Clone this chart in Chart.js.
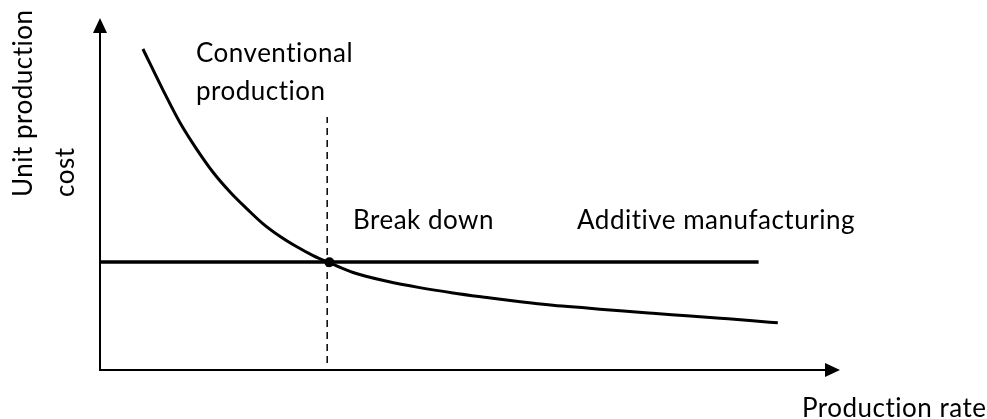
<!DOCTYPE html>
<html>
<head>
<meta charset="utf-8">
<script src="https://cdn.jsdelivr.net/npm/chart.js@4.4.1/dist/chart.umd.min.js"></script>
<style>
  html, body { margin: 0; padding: 0; background: #fff; }
  canvas { display: block; }
</style>
</head>
<body>
<canvas id="chart" width="987" height="419"></canvas>
<script>
// conventional production cost curve
const convX = [5.8, 8.5, 10.8, 13.1, 15.3, 17.6, 19.9, 22.0, 24.3, 26.6, 28.8, 31.1, 34.2, 38.8, 43.2, 47.7, 52.3, 56.8, 61.2, 65.8, 70.3, 74.7, 79.3, 83.8, 88.2, 91.6];
const convY = [91.2, 79.6, 70.3, 62.6, 56.1, 50.5, 45.7, 41.6, 38.0, 35.0, 32.5, 30.4, 27.7, 25.2, 23.4, 21.9, 20.6, 19.4, 18.4, 17.6, 16.8, 16.1, 15.4, 14.7, 14.0, 13.4];

// additive manufacturing: flat cost
const addX = [0, 89.0];
const addY = [30.7, 30.7];

// break point and its dashed marker
const breakX = 31.0;
const breakY = 30.6;
const dashX = [30.7, 30.7];
const dashY = [2.0, 71.9];

const labels = {
  conventional: ['Conventional', 'production'],
  breakDown: 'Break down',
  additive: 'Additive manufacturing',
  xTitle: 'Production rate',
  yTitle: ['Unit production', 'cost']
};

const toPts = (xs, ys) => xs.map((x, i) => ({ x: x, y: ys[i] }));

const FONT = '26px Lato';

// axes with arrows + text annotations
const decor = {
  id: 'decor',
  beforeDatasetsDraw(chart) {
    const c = chart.ctx;
    const a = chart.chartArea;
    c.save();
    c.strokeStyle = '#000';
    c.fillStyle = '#000';
    c.lineWidth = 2;
    // x axis
    c.beginPath();
    c.moveTo(a.left, a.bottom);
    c.lineTo(a.right - 14, a.bottom);
    c.stroke();
    c.beginPath();
    c.moveTo(a.right, a.bottom);
    c.lineTo(a.right - 15, a.bottom - 7);
    c.lineTo(a.right - 15, a.bottom + 7);
    c.closePath();
    c.fill();
    // y axis
    c.beginPath();
    c.moveTo(a.left, a.bottom + 1);
    c.lineTo(a.left, a.top + 14);
    c.stroke();
    c.beginPath();
    c.moveTo(a.left, a.top);
    c.lineTo(a.left - 7, a.top + 15);
    c.lineTo(a.left + 7, a.top + 15);
    c.closePath();
    c.fill();
    c.restore();
  },
  afterDraw(chart) {
    const c = chart.ctx;
    c.save();
    c.fillStyle = '#000';
    c.font = FONT;
    c.letterSpacing = '0.5px'; // also stops the "ti" ligature
    c.textAlign = 'left';
    c.textBaseline = 'alphabetic';
    c.fillText(labels.conventional[0], 196, 62);
    c.fillText(labels.conventional[1], 196, 100);
    c.fillText(labels.breakDown, 353, 229);
    c.fillText(labels.additive, 577, 229);
    c.fillText(labels.xTitle, 802, 417);
    // rotated y title
    c.save();
    c.translate(32, 197);
    c.rotate(-Math.PI / 2);
    c.fillText(labels.yTitle[0], 0, 0);
    c.restore();
    c.save();
    c.translate(74, 197);
    c.rotate(-Math.PI / 2);
    c.fillText(labels.yTitle[1], 0, 0);
    c.restore();
    c.restore();
  }
};

new Chart(document.getElementById('chart'), {
  type: 'line',
  data: {
    datasets: [
      {
        data: toPts(convX, convY),
        borderColor: '#000',
        borderWidth: 3,
        pointRadius: 0,
        cubicInterpolationMode: 'monotone',
        fill: false
      },
      {
        data: toPts(addX, addY),
        borderColor: '#000',
        borderWidth: 3.5,
        pointRadius: 0,
        fill: false
      },
      {
        data: toPts(dashX, dashY),
        borderColor: '#000',
        borderWidth: 1.5,
        borderDash: [7, 5],
        pointRadius: 0,
        fill: false
      },
      {
        data: [{ x: breakX, y: breakY }],
        showLine: false,
        pointRadius: 5,
        pointBackgroundColor: '#000',
        pointBorderColor: '#000',
        pointBorderWidth: 0
      }
    ]
  },
  options: {
    responsive: false,
    animation: false,
    devicePixelRatio: 1,
    layout: { padding: { left: 100, right: 147, top: 18, bottom: 49 } },
    plugins: { legend: { display: false }, tooltip: { enabled: false } },
    scales: {
      x: { type: 'linear', min: 0, max: 100, display: false },
      y: { type: 'linear', min: 0, max: 100, display: false }
    }
  },
  plugins: [decor]
});
</script>
</body>
</html>
